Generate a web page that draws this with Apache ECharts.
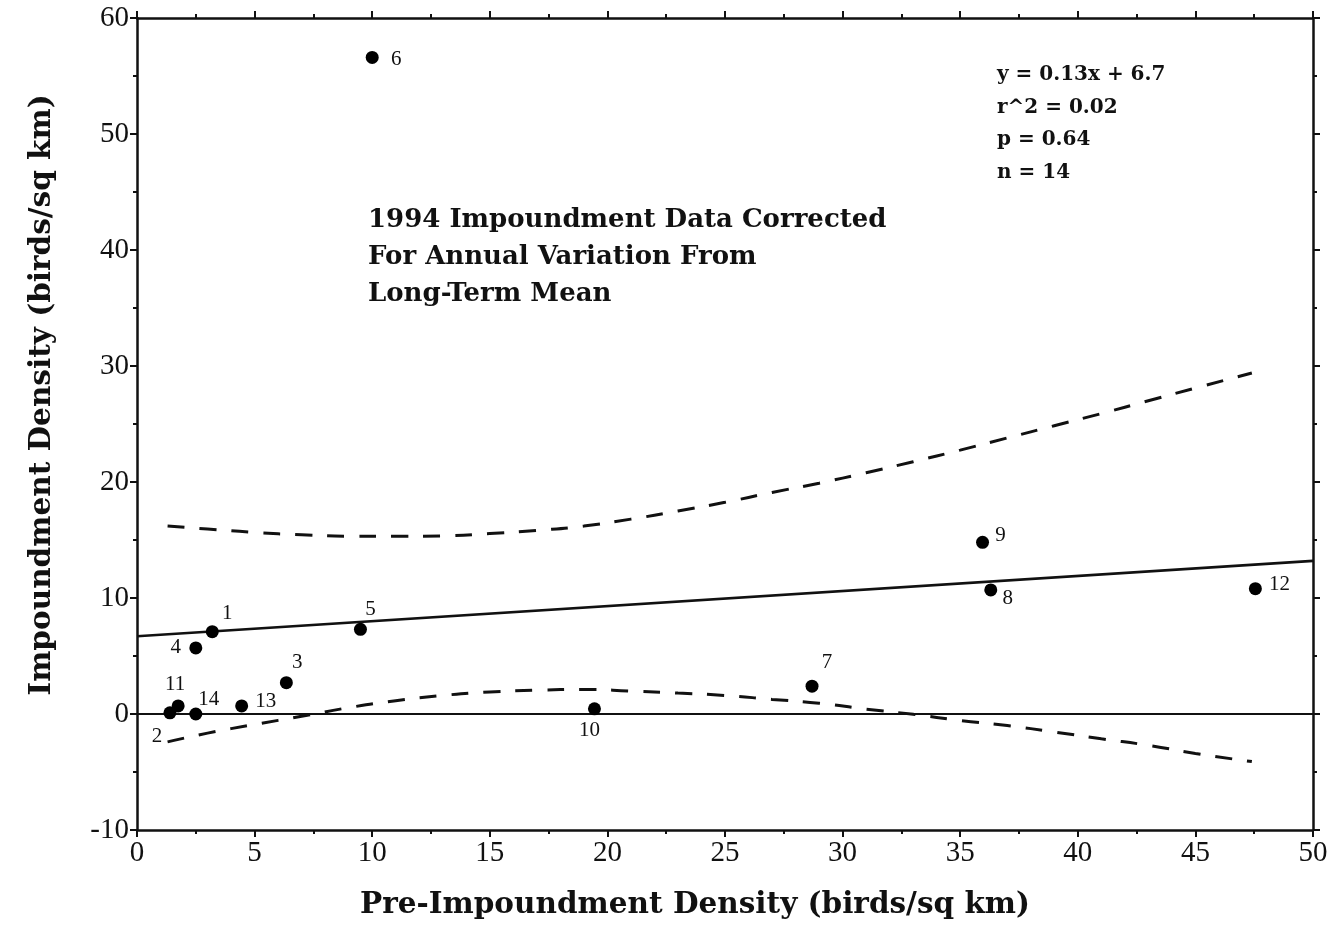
<!DOCTYPE html>
<html>
<head>
<meta charset="utf-8">
<script src="https://cdn.jsdelivr.net/npm/echarts@6/dist/echarts.min.js"></script>
<style>
  html, body { margin: 0; padding: 0; background: #fff; }
  #main { width: 1332px; height: 941px; }
</style>
</head>
<body>
<div id="main"></div>
<script>
// points
const ptLabel = ['1', '2', '3', '4', '5', '6', '7', '8', '9', '10', '11', '12', '13', '14'];
const ptX = [3.2, 1.4, 6.35, 2.5, 9.5, 10.0, 28.7, 36.3, 35.95, 19.45, 1.75, 47.55, 4.45, 2.5];
const ptY = [7.1, 0.1, 2.7, 5.7, 7.3, 56.6, 2.4, 10.7, 14.8, 0.45, 0.7, 10.8, 0.7, 0.0];

// regression line y = 0.13x + 6.7 (end points)
const fitX = [0, 50];
const fitY = [6.7, 13.2];

// confidence band (dashed)
const bandX = [1.3, 3, 5, 7, 9, 11, 13, 15, 17, 19, 21, 23, 25, 27, 29, 31, 33, 35, 37, 39, 41, 43, 45, 47.4];
const bandHi = [16.2, 15.95, 15.65, 15.45, 15.33, 15.32, 15.36, 15.55, 15.83, 16.2, 16.8, 17.5, 18.25, 19.1, 19.9, 20.8, 21.75, 22.75, 23.8, 24.85, 25.9, 27.0, 28.1, 29.4];
const bandLo = [-2.4, -1.65, -0.9, -0.2, 0.55, 1.15, 1.6, 1.9, 2.05, 2.12, 1.98, 1.8, 1.6, 1.26, 0.93, 0.42, -0.03, -0.56, -1.0, -1.55, -2.14, -2.7, -3.4, -4.1];

const statLines = ['y = 0.13x + 6.7', 'r^2 = 0.02', 'p = 0.64', 'n = 14'];
const noteLines = ['1994 Impoundment Data Corrected', 'For Annual Variation From', 'Long-Term Mean'];

// label placement around each dot (px offsets)
const labelOffset = {
  '1': [15, -18], '2': [-13, 24], '3': [11, -20], '4': [-20, 0], '5': [10, -20],
  '6': [24, 2], '7': [15, -24], '8': [17, 9], '9': [18, -7], '10': [-5, 22],
  '11': [-3, -21], '12': [24, -4], '13': [24, -4], '14': [13, -15]
};

const ink = '#111';
const serif = 'Liberation Serif';
const boldSerif = 'DejaVu Serif';

let mychart = echarts.init(document.getElementById('main'), null, { renderer: 'canvas' });

function xAx(pos, showLabel) {
  return {
    type: 'value', position: pos, min: 0, max: 50, interval: 5,
    axisLine: { show: true, onZero: false, lineStyle: { color: ink, width: 2.5 } },
    axisTick: { show: true, inside: false, length: 7, lineStyle: { color: ink, width: 2 } },
    minorTick: { show: true, splitNumber: 2, length: 4, lineStyle: { color: ink, width: 2 } },
    axisLabel: { show: showLabel, fontFamily: serif, fontSize: 29, color: ink, margin: 9 },
    splitLine: { show: false },
    name: showLabel ? 'Pre-Impoundment Density (birds/sq km)' : '',
    nameLocation: 'middle', nameGap: 60,
    nameTextStyle: { fontFamily: boldSerif, fontWeight: 'bold', fontSize: 29.5, color: ink, padding: [0, 60, 0, 0] }
  };
}
function yAx(pos, showLabel) {
  return {
    type: 'value', position: pos, min: -10, max: 60, interval: 10,
    axisLine: { show: true, onZero: false, lineStyle: { color: ink, width: 2.5 } },
    axisTick: { show: true, inside: false, length: 7, lineStyle: { color: ink, width: 2 } },
    minorTick: { show: true, splitNumber: 2, length: 4, lineStyle: { color: ink, width: 2 } },
    axisLabel: { show: showLabel, fontFamily: serif, fontSize: 29, color: ink, margin: 8 },
    splitLine: { show: false },
    name: showLabel ? 'Impoundment Density (birds/sq km)' : '',
    nameLocation: 'middle', nameGap: 80,
    nameTextStyle: { fontFamily: boldSerif, fontWeight: 'bold', fontSize: 29.5, color: ink, padding: [0, 0, 0, 58] }
  };
}

const pts = ptX.map((x, i) => ({
  value: [x, ptY[i]],
  name: ptLabel[i],
  label: { offset: labelOffset[ptLabel[i]] }
}));

const option = {
  animation: false,
  backgroundColor: '#fff',
  grid: { left: 137, right: 19, top: 18, bottom: 111, containLabel: false },
  xAxis: [xAx('bottom', true), xAx('top', false)],
  yAxis: [yAx('left', true), yAx('right', false)],
  series: [
    {
      type: 'line', data: fitX.map((x, i) => [x, fitY[i]]),
      showSymbol: false, silent: true,
      lineStyle: { color: ink, width: 2.6 },
      markLine: {
        silent: true, symbol: ['none', 'none'], label: { show: false },
        lineStyle: { color: ink, width: 1.8, type: 'solid' },
        data: [{ yAxis: 0 }]
      },
      z: 3
    },
    {
      type: 'line', data: bandX.map((x, i) => [x, bandHi[i]]),
      smooth: true, showSymbol: false, silent: true,
      lineStyle: { color: ink, width: 3, type: [17, 15] }
    },
    {
      type: 'line', data: bandX.map((x, i) => [x, bandLo[i]]),
      smooth: true, showSymbol: false, silent: true,
      lineStyle: { color: ink, width: 3, type: [17, 15] }
    },
    {
      type: 'scatter', data: pts, symbolSize: 13,
      itemStyle: { color: '#000', opacity: 1 },
      label: {
        show: true, position: 'inside', formatter: '{b}',
        fontFamily: serif, fontSize: 21, color: ink, opacity: 1
      },
      z: 5
    }
  ],
  graphic: [
    {
      type: 'text', left: 368, top: 202,
      style: { text: noteLines.join('\n'), font: 'bold 26px "DejaVu Serif"', fill: ink, lineHeight: 37 }
    },
    {
      type: 'text', left: 997, top: 59,
      style: { text: statLines.join('\n'), font: 'bold 20px "DejaVu Serif"', fill: ink, lineHeight: 32.5 }
    }
  ]
};

mychart.setOption(option, true);
mychart.resize();
</script>
</body>
</html>
